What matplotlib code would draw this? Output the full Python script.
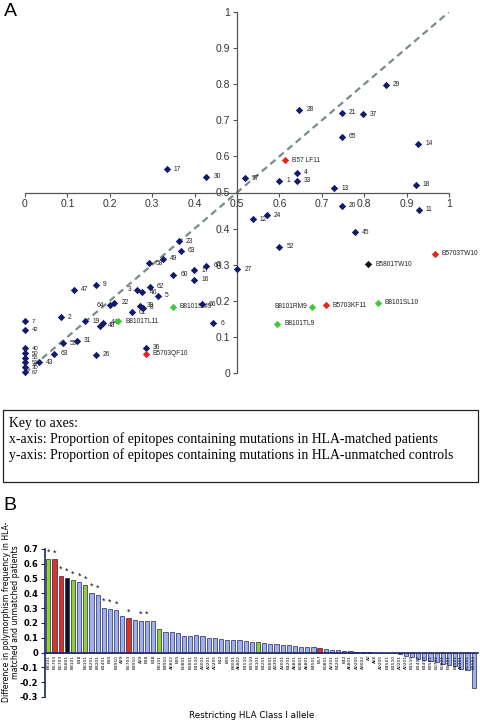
import matplotlib
matplotlib.use("Agg")
import matplotlib.pyplot as plt
from matplotlib.patches import Rectangle
import numpy as np

# ---- panel A data: matched (x) vs unmatched (y) proportions ----
point_labels = [
    "17", "30", "57", "29", "28", "21", "37", "65", "14", "B57 LF11", "4", "1", "33", "13", "18",
    "23", "63", "49", "58", "17", "64", "60", "16", "47", "9", "3", "46", "62", "5",
    "64", "22", "61", "39", "8", "B8101SM9", "66", "6", "2", "7", "42", "19", "44", "48",
    "B8101TL11", "40", "50", "55", "51", "30", "67", "59", "31", "63", "43", "26", "36",
    "B5703QF10", "27", "20", "11", "12", "24", "45", "52", "B5703TW10", "B5801TW10",
    "B8101RM9", "B5703KF11", "B8101SL10", "B8101TL9",
]
matched = [
    0.334, 0.428, 0.519, 0.851, 0.647, 0.748, 0.798, 0.748, 0.928, 0.613, 0.641, 0.600, 0.641, 0.729, 0.922,
    0.363, 0.368, 0.325, 0.293, 0.399, 0.428, 0.350, 0.399, 0.116, 0.167, 0.263, 0.277, 0.295, 0.314,
    0.200, 0.211, 0.252, 0.271, 0.278, 0.348, 0.417, 0.444, 0.084, 0.0, 0.0, 0.142, 0.185, 0.178,
    0.220, 0.0, 0.0, 0.0, 0.0, 0.0, 0.0, 0.090, 0.123, 0.068, 0.034, 0.167, 0.285,
    0.285, 0.501, 0.748, 0.929, 0.537, 0.571, 0.778, 0.600, 0.967, 0.810,
    0.678, 0.710, 0.832, 0.595,
]
unmatched = [
    0.565, 0.543, 0.539, 0.798, 0.729, 0.721, 0.717, 0.655, 0.635, 0.589, 0.555, 0.533, 0.533, 0.512, 0.521,
    0.365, 0.339, 0.316, 0.304, 0.285, 0.297, 0.272, 0.258, 0.231, 0.245, 0.230, 0.223, 0.239, 0.214,
    0.188, 0.195, 0.168, 0.186, 0.181, 0.184, 0.191, 0.138, 0.155, 0.143, 0.120, 0.143, 0.139, 0.131,
    0.143, 0.068, 0.055, 0.042, 0.030, 0.016, 0.002, 0.082, 0.090, 0.053, 0.030, 0.050, 0.070,
    0.054, 0.288, 0.463, 0.452, 0.426, 0.437, 0.390, 0.350, 0.331, 0.301,
    0.184, 0.187, 0.195, 0.137,
]
point_group = ["other"] * len(point_labels)
for name, grp in [("B57 LF11", "B57"), ("B5703QF10", "B57"), ("B5703TW10", "B57"), ("B5703KF11", "B57"),
                  ("B8101SM9", "B81"), ("B8101TL11", "B81"), ("B8101RM9", "B81"), ("B8101SL10", "B81"),
                  ("B8101TL9", "B81"), ("B5801TW10", "B58")]:
    point_group[point_labels.index(name)] = grp

# ---- panel B data: difference in polymorphism frequency ----
alleles = [
    "B8101", "B5703", "B5703", "B5801", "B8101", "B18", "B8101", "B4201", "B8201", "B1401",
    "B35", "B3910", "A29", "B5703", "B3910", "A29", "B18", "B18", "B8101", "B3910",
    "A6802", "B35", "B0801", "B5801", "B1510", "A3001", "A0201", "A0205", "B42", "B35",
    "B8001", "A6802", "B1510", "B1510", "B8101", "B4201", "B5801", "A3301", "A3001", "B4201",
    "A6801", "B0801", "A6801", "B4501", "B57", "B0801", "A2301", "B4201", "B42", "A6801",
    "A0205", "A3002", "A2", "A66", "A0205", "B4501", "B1510", "A0201", "A0201", "B1510",
    "B1402", "B4403", "B3501", "B0702", "B0801", "B5301", "B4501", "A0301", "B5301", "B1503",
]
diff = [
    0.635, 0.630, 0.518, 0.507, 0.490, 0.475, 0.455, 0.405, 0.390, 0.304,
    0.295, 0.286, 0.250, 0.232, 0.220, 0.216, 0.216, 0.212, 0.158, 0.142,
    0.137, 0.133, 0.115, 0.115, 0.117, 0.113, 0.099, 0.099, 0.092, 0.086,
    0.086, 0.083, 0.079, 0.074, 0.074, 0.063, 0.061, 0.059, 0.050, 0.050,
    0.047, 0.036, 0.036, 0.036, 0.034, 0.025, 0.016, 0.016, 0.011, 0.009,
    0.006, 0.002, 0.001, -0.001, -0.002, -0.003, -0.006, -0.010, -0.020, -0.027,
    -0.045, -0.050, -0.060, -0.065, -0.075, -0.085, -0.088, -0.110, -0.115, -0.236,
]
bar_group = ["other"] * len(diff)
for i, grp in [(0, "B81"), (1, "B57"), (2, "B57"), (3, "B58"), (4, "B81"), (6, "B81"),
               (13, "B57"), (18, "B81"), (34, "B81"), (44, "B57")]:
    bar_group[i] = grp
starred = [0, 1, 2, 3, 4, 5, 6, 7, 8, 9, 10, 11, 13, 15, 16]

point_colors = {"other": "#121a6b", "B57": "#f0201c", "B81": "#3fc93a", "B58": "#111111"}
bar_colors = {"other": "#9fb0ea", "B57": "#e0301f", "B81": "#8fd42a", "B58": "#111111"}

plt.rcParams["font.family"] = ["Liberation Sans", "DejaVu Sans"]

fig = plt.figure(figsize=(4.8, 7.23), dpi=100)
W, H = 480.0, 723.0

# ---------------- panel A ----------------
axA = fig.add_axes([25 / W, 1 - 373 / H, 424 / W, 361 / H])
axA.set_xlim(0, 1)
axA.set_ylim(0, 1)
for s in ["top", "right"]:
    axA.spines[s].set_visible(False)
axA.spines["left"].set_position(("data", 0.5))
axA.spines["bottom"].set_position(("data", 0.5))
for s in ["left", "bottom"]:
    axA.spines[s].set_color("#555555")
    axA.spines[s].set_linewidth(0.9)
ticks = np.round(np.arange(0, 1.01, 0.1), 1)
tick_text = ["0" if t == 0 else ("1" if t == 1 else f"{t:g}") for t in ticks]
axA.set_xticks(ticks, tick_text)
axA.set_yticks(ticks, tick_text)
axA.tick_params(length=3, width=0.8, color="#555555", labelsize=7.5, labelcolor="#333333", pad=2)

axA.plot([0, 1], [0, 1], ls=(0, (3, 2)), color="#7a8c88", lw=1.6, zorder=1)

left_side = {29, 25, 66}
for i, (x, y, lab, g) in enumerate(zip(matched, unmatched, point_labels, point_group)):
    axA.scatter(x, y, marker="D", s=14, color=point_colors[g], zorder=3, clip_on=False, linewidths=0)
    fs = 4.3 if x == 0 else 4.8
    if i in left_side:
        axA.annotate(lab, (x, y), xytext=(-4, 0), textcoords="offset points",
                     ha="right", va="center", fontsize=fs, color="#222222")
    else:
        axA.annotate(lab, (x, y), xytext=(5, 0), textcoords="offset points",
                     ha="left", va="center", fontsize=fs, color="#222222")

fig.text(4 / W, 1 - 3 / H, "A", fontsize=14, va="top", ha="left")

# key box
fig.patches.append(Rectangle((3 / W, 1 - 482 / H), 475 / W, 72 / H, transform=fig.transFigure,
                             fill=False, edgecolor="#222222", linewidth=0.9))
key_lines = ["Key to axes:",
             "x-axis: Proportion of epitopes containing mutations in HLA-matched patients",
             "y-axis: Proportion of epitopes containing mutations in HLA-unmatched controls"]
for k, line in enumerate(key_lines):
    fig.text(9 / W, 1 - (423 + 16 * k) / H, line, fontsize=9.9, family="Liberation Serif",
             va="center", ha="left")

# ---------------- panel B ----------------
axB = fig.add_axes([45 / W, 26 / H, 433 / W, 148 / H])
xpos = np.arange(len(diff))
axB.bar(xpos, diff, width=0.68, color=[bar_colors[g] for g in bar_group],
        edgecolor="#1c2466", linewidth=0.5)
for i in starred:
    axB.text(i, diff[i] + 0.012, "*", ha="center", va="bottom", fontsize=6.5, color="#111111")
axB.set_xlim(-0.55, len(diff) - 0.3)
axB.set_ylim(-0.3, 0.7)
for s in ["top", "right"]:
    axB.spines[s].set_visible(False)
axB.spines["bottom"].set_position(("data", 0))
for s in ["left", "bottom"]:
    axB.spines[s].set_color("#1c2466")
    axB.spines[s].set_linewidth(1.2)
axB.set_yticks(np.round(np.arange(-0.3, 0.71, 0.1), 1))
axB.set_yticklabels([f"{t:g}" for t in np.round(np.arange(-0.3, 0.71, 0.1), 1)],
                    fontsize=6, fontweight="bold", family="DejaVu Sans")
axB.set_xticks(xpos)
axB.set_xticklabels(alleles, rotation=90, fontsize=3.2, family="DejaVu Sans")
axB.tick_params(axis="x", length=0, pad=1.5)
axB.tick_params(axis="y", length=3, width=0.8, color="#1c2466", pad=2)

fig.text(11 / W, 1 - 612 / H,
         "Difference in polymorphism frequency in HLA-\nmatched and unmatched patients",
         rotation=90, fontsize=5.6, family="DejaVu Sans", ha="center", va="center",
         linespacing=1.1)
fig.text(252 / W, 1 - 715 / H, "Restricting HLA Class I allele", fontsize=6.3,
         family="DejaVu Sans", ha="center", va="center")
fig.text(3 / W, 1 - 497 / H, "B", fontsize=14, va="top", ha="left")

fig.savefig("out.png", dpi=100)
